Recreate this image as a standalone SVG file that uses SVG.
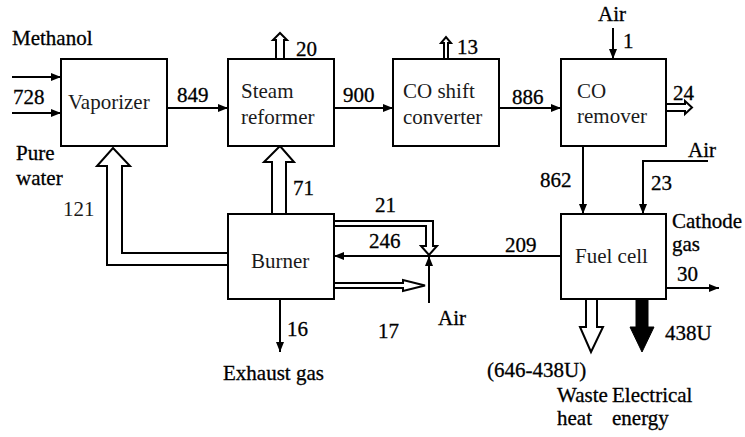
<svg xmlns="http://www.w3.org/2000/svg" width="745" height="437" viewBox="0 0 745 437">
<defs>
<marker id="ah" viewBox="0 0 10 8" refX="10" refY="4" markerWidth="10" markerHeight="8" markerUnits="userSpaceOnUse" orient="auto">
<path d="M0,0 L10,4 L0,8 Z" fill="#000"/>
</marker>
</defs>
<style>
.box{fill:#fff;stroke:#000;stroke-width:2}
.bt{fill:#1a1a1a}
.lb{fill:#000;stroke:#000;stroke-width:0.3}
.ln{fill:none;stroke:#000;stroke-width:2}
.ho{fill:#fff;stroke:#000;stroke-width:2;stroke-linejoin:miter}
.fi{fill:#000;stroke:#000;stroke-width:1}
</style>
<rect width="745" height="437" fill="#fff"/>

<g id="connectors">
<line class="ln" x1="12" y1="77" x2="61" y2="77" marker-end="url(#ah)"/>
<line class="ln" x1="12" y1="113" x2="61" y2="113" marker-end="url(#ah)"/>
<line class="ln" x1="167" y1="108" x2="228" y2="108" marker-end="url(#ah)"/>
<line class="ln" x1="334" y1="108" x2="393" y2="108" marker-end="url(#ah)"/>
<line class="ln" x1="499" y1="108" x2="561" y2="108" marker-end="url(#ah)"/>
<line class="ln" x1="613" y1="28" x2="613" y2="59" marker-end="url(#ah)"/>
<polyline class="ho" points="276,59 276,40 273,40 280,33 287,40 284,40 284,59"/>
<polyline class="ho" points="444,59 444,43 441,43 446,37 451,43 448,43 448,59"/>
<polyline class="ho" points="666,104 685,104 685,101 692,107.5 685,114 685,111 666,111"/>
<polyline class="ho" points="228,253 122,253 122,166 130,166 113,148 97,166 107,166 107,265 228,265"/>
<polyline class="ho" points="272,214 272,162 264,162 280,146 294,162 286,162 286,214"/>
<polyline class="ho" points="334,221 433,221 433,246 437,246 429,255 421,246 426,246 426,226 334,226" stroke-width="1.6"/>
<line class="ln" x1="561" y1="256" x2="334" y2="256" marker-end="url(#ah)"/>
<line class="ln" x1="429" y1="303" x2="429" y2="256" marker-end="url(#ah)"/>
<polyline class="ho" points="334,283 403,283 403,280 425,285.5 403,291 403,288 334,288" stroke-width="1.6"/>
<line class="ln" x1="280" y1="299" x2="280" y2="352" marker-end="url(#ah)"/>
<line class="ln" x1="583" y1="146" x2="583" y2="214" marker-end="url(#ah)"/>
<polyline class="ln" points="708,161 643,161 643,214" marker-end="url(#ah)"/>
<line class="ln" x1="666" y1="288" x2="719" y2="288" marker-end="url(#ah)"/>
<polyline class="ho" points="586,299 586,327 580,327 591,352 603,327 597,327 597,299"/>
<polygon class="fi" points="636,299 636,327 630,327 642,352 654,327 648,327 648,299"/>
</g>

<g font-family="Liberation Serif, Tinos, Times New Roman, DejaVu Serif, serif" font-size="21">
<g id="vaporizer">
<rect class="box" x="61" y="59" width="106" height="87"/>
<text class="bt" x="68" y="109">Vaporizer</text>
</g>
<g id="steam-reformer">
<rect class="box" x="228" y="59" width="106" height="87"/>
<text class="bt" x="241" y="98">Steam</text>
<text class="bt" x="241" y="124">reformer</text>
</g>
<g id="co-shift">
<rect class="box" x="393" y="59" width="106" height="87"/>
<text class="bt" x="403" y="98">CO shift</text>
<text class="bt" x="403" y="124">converter</text>
</g>
<g id="co-remover">
<rect class="box" x="561" y="59" width="105" height="87"/>
<text class="bt" x="577" y="98">CO</text>
<text class="bt" x="577" y="123">remover</text>
</g>
<g id="burner">
<rect class="box" x="228" y="214" width="106" height="85"/>
<text class="bt" x="251" y="268">Burner</text>
</g>
<g id="fuel-cell">
<rect class="box" x="561" y="214" width="105" height="85"/>
<text class="bt" x="575" y="263">Fuel cell</text>
</g>

<g id="labels">
<text class="lb" x="12" y="45">Methanol</text>
<text class="lb" x="13" y="104">728</text>
<text class="lb" x="177" y="102">849</text>
<text class="lb" x="296" y="56">20</text>
<text class="lb" x="343" y="102">900</text>
<text class="lb" x="457" y="54">13</text>
<text class="lb" x="512" y="104">886</text>
<text class="lb" x="598" y="21">Air</text>
<text class="lb" x="623" y="48">1</text>
<text class="lb" x="673" y="100">24</text>
<text class="lb" x="16" y="160">Pure</text>
<text class="lb" x="16" y="185">water</text>
<text class="bt" x="63" y="216">121</text>
<text class="lb" x="293" y="195">71</text>
<text class="lb" x="375" y="212">21</text>
<text class="lb" x="369" y="248">246</text>
<text class="lb" x="505" y="252">209</text>
<text class="lb" x="438" y="325">Air</text>
<text class="lb" x="378" y="338">17</text>
<text class="lb" x="287" y="336">16</text>
<text class="lb" x="223" y="380">Exhaust gas</text>
<text class="lb" x="540" y="187">862</text>
<text class="lb" x="688" y="157">Air</text>
<text class="lb" x="651" y="190">23</text>
<text class="lb" x="672" y="228">Cathode</text>
<text class="lb" x="672" y="251">gas</text>
<text class="lb" x="677" y="281">30</text>
<text class="lb" x="665" y="340">438U</text>
<text class="lb" x="487" y="377">(646-438U)</text>
<text class="lb" x="557" y="402">Waste</text>
<text class="lb" x="557" y="425">heat</text>
<text class="lb" x="612" y="402">Electrical</text>
<text class="lb" x="612" y="425">energy</text>
</g>
</g>
</svg>
